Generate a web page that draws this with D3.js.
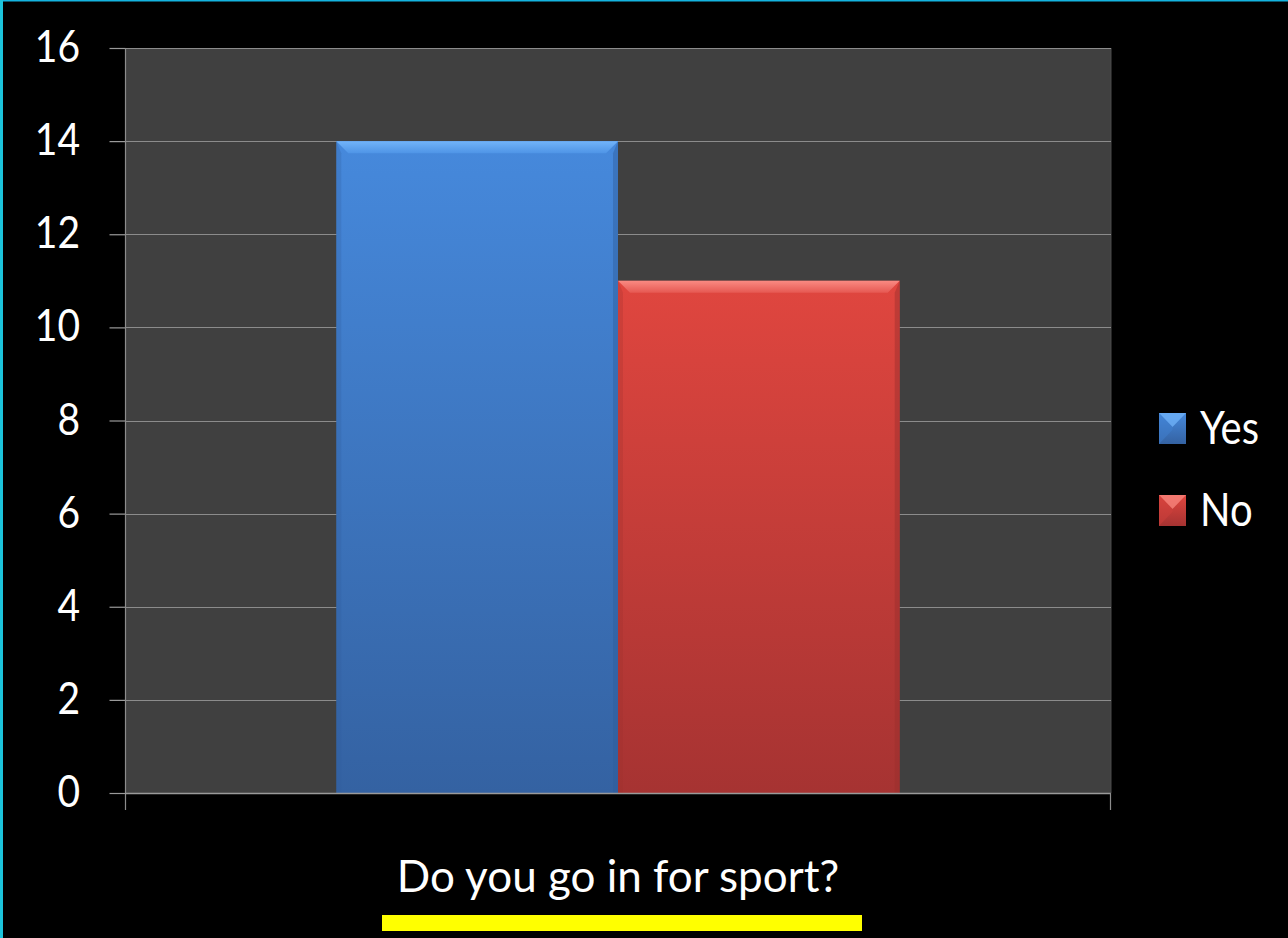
<!DOCTYPE html>
<html>
<head>
<meta charset="utf-8">
<script src="https://cdn.jsdelivr.net/npm/d3@7"></script>
<style>
  html, body { margin: 0; padding: 0; background: #000; }
  svg { display: block; }
  text { font-family: Lato, "Open Sans", sans-serif; fill: #fff; }
</style>
</head>
<body>
<svg id="chart" width="1288" height="938"></svg>
<script>
// Survey answers
const categories = ["Do you go in for sport?"];
const seriesNames = ["Yes", "No"];
const seriesValues = [14, 11];
const yTicks = [0, 2, 4, 6, 8, 10, 12, 14, 16];

const W = 1288, H = 938;
const plot = { left: 125, right: 1111, top: 48, bottom: 793 };
const STRETCH = 1.15; // axis and legend text is drawn slightly taller than wide

const palette = {
  Yes: { top: "#4689dc", bottom: "#3462a2", bevelHi: "#72b4fa", bevelLo: "#4f95e6", edge: "#2f5d9c", sq: "#3f7fd0" },
  No:  { top: "#e0463f", bottom: "#a63332", bevelHi: "#f98a82", bevelLo: "#e65852", edge: "#9a2f2d", sq: "#d0403b" }
};

const svg = d3.select("#chart");
const defs = svg.append("defs");

// page frame
svg.append("rect").attr("width", W).attr("height", H).attr("fill", "#000");
svg.append("rect").attr("x", 0).attr("y", 0).attr("width", W).attr("height", 1.5).attr("fill", "#14b4e0");
svg.append("rect").attr("x", 0).attr("y", 0).attr("width", 3).attr("height", H).attr("fill", "#1cc4dc");

// scales
const y = d3.scaleLinear().domain([0, 16]).range([plot.bottom, plot.top]);
const x0 = d3.scaleBand().domain(categories).range([plot.left, plot.right]).paddingInner(0).paddingOuter(0.375);
const x1 = d3.scaleBand().domain(seriesNames).range([0, x0.bandwidth()]).padding(0);

// plot background
svg.append("rect")
  .attr("x", plot.left).attr("y", plot.top)
  .attr("width", plot.right - plot.left).attr("height", plot.bottom - plot.top)
  .attr("fill", "#404040");
svg.append("line")
  .attr("x1", plot.right).attr("x2", plot.right)
  .attr("y1", plot.top).attr("y2", plot.bottom)
  .attr("stroke", "#4a4a4a").attr("stroke-width", 1);

// gridlines
svg.append("g").selectAll("line").data(yTicks.filter(d => d > 0)).join("line")
  .attr("x1", plot.left).attr("x2", plot.right)
  .attr("y1", d => Math.round(y(d)) + 0.5).attr("y2", d => Math.round(y(d)) + 0.5)
  .attr("stroke", "#8c8c8c").attr("stroke-width", 1.2);

// y axis with outward ticks
const yAxis = d3.axisLeft(y).tickValues(yTicks).tickSize(16).tickPadding(0).tickFormat(() => "");
const yg = svg.append("g").attr("transform", `translate(${plot.left + 0.5},0)`).call(yAxis);
yg.select(".domain").remove();
yg.selectAll(".tick line").attr("stroke", "#9a9a9a").attr("stroke-width", 1.2);
svg.append("line")
  .attr("x1", plot.left + 0.5).attr("x2", plot.left + 0.5)
  .attr("y1", plot.top).attr("y2", plot.bottom + 17)
  .attr("stroke", "#8c8c8c").attr("stroke-width", 1.2);

// y tick labels
svg.append("g").selectAll("text").data(yTicks).join("text")
  .attr("text-anchor", "end")
  .attr("transform", d => `translate(80,${y(d) + 14}) scale(1,${STRETCH})`)
  .style("font-size", "39px")
  .text(d => d);

// bar gradients
seriesNames.forEach(name => {
  const c = palette[name];
  const g = defs.append("linearGradient").attr("id", "body-" + name)
    .attr("x1", 0).attr("x2", 0).attr("y1", 0).attr("y2", 1);
  g.append("stop").attr("offset", "0%").attr("stop-color", c.top);
  g.append("stop").attr("offset", "100%").attr("stop-color", c.bottom);
  const b = defs.append("linearGradient").attr("id", "bevel-" + name)
    .attr("x1", 0).attr("x2", 0).attr("y1", 0).attr("y2", 1);
  b.append("stop").attr("offset", "0%").attr("stop-color", c.bevelHi);
  b.append("stop").attr("offset", "100%").attr("stop-color", c.bevelLo);
});

const bars = seriesNames.map((name, i) => ({ cat: categories[0], name, value: seriesValues[i] }));
const BEV = 12;

const barG = svg.append("g").selectAll("g").data(bars).join("g");
barG.each(function (d) {
  const g = d3.select(this);
  const xa = x0(d.cat) + x1(d.name);
  const xb = xa + x1.bandwidth();
  const yt = y(d.value), yb = y(0);
  const c = palette[d.name];
  g.append("rect")
    .attr("x", xa).attr("y", yt).attr("width", xb - xa).attr("height", yb - yt)
    .attr("fill", `url(#body-${d.name})`);
  // right edge shade
  g.append("polygon")
    .attr("points", [[xb, yt], [xb - 5, yt + BEV], [xb - 5, yb], [xb, yb]].join(" "))
    .attr("fill", c.edge).attr("opacity", 0.45);
  // left edge shade
  g.append("polygon")
    .attr("points", [[xa, yt], [xa + 5, yt + BEV], [xa + 5, yb], [xa, yb]].join(" "))
    .attr("fill", c.edge).attr("opacity", 0.25);
  // top bevel
  g.append("polygon")
    .attr("points", [[xa, yt], [xb, yt], [xb - BEV, yt + BEV], [xa + BEV, yt + BEV]].join(" "))
    .attr("fill", `url(#bevel-${d.name})`);
});

// x axis baseline with category boundary ticks
svg.append("line")
  .attr("x1", plot.left).attr("x2", plot.right)
  .attr("y1", plot.bottom + 0.5).attr("y2", plot.bottom + 0.5)
  .attr("stroke", "#9a9a9a").attr("stroke-width", 1.4);
svg.append("line")
  .attr("x1", plot.right - 0.5).attr("x2", plot.right - 0.5)
  .attr("y1", plot.bottom).attr("y2", plot.bottom + 17)
  .attr("stroke", "#8c8c8c").attr("stroke-width", 1.2);

// category label with underline
const cx = x0(categories[0]) + x0.bandwidth() / 2;
svg.append("text")
  .attr("text-anchor", "middle")
  .attr("transform", `translate(${cx},892) scale(1,1.02)`)
  .style("font-size", "44px")
  .text(categories[0]);
svg.append("rect")
  .attr("x", 382).attr("y", 915).attr("width", 480).attr("height", 16)
  .attr("fill", "#ffff00");

// legend
const legend = svg.append("g").selectAll("g").data(seriesNames).join("g")
  .attr("transform", (d, i) => `translate(1159,${413 + i * 82})`);
legend.each(function (name) {
  const g = d3.select(this);
  const c = palette[name];
  g.append("rect").attr("width", 27).attr("height", 31).attr("fill", `url(#body-${name})`);
  g.append("polygon").attr("points", "0,0 27,0 13.5,14").attr("fill", c.bevelHi).attr("opacity", 0.75);
  g.append("polygon").attr("points", "0,0 13.5,14 13.5,17 0,31").attr("fill", c.sq).attr("opacity", 0.5);
});
legend.append("text")
  .attr("transform", `translate(41,31) scale(1,${STRETCH})`)
  .style("font-size", "40px")
  .text(d => d);
</script>
</body>
</html>
